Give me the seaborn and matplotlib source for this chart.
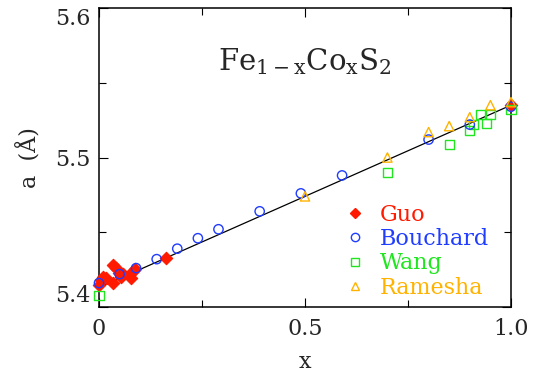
import matplotlib
matplotlib.use("Agg")
import matplotlib.pyplot as plt
from matplotlib.lines import Line2D
from matplotlib.ticker import MultipleLocator
import seaborn as sns
import pandas as pd

# ---- data ----
guo_x = [0.0, 0.004, 0.010, 0.016, 0.035, 0.035, 0.042, 0.048, 0.054, 0.058, 0.077, 0.081, 0.088, 0.162, 1.0]
guo_y = [5.4145, 5.418, 5.420, 5.4194, 5.416, 5.4278, 5.4263, 5.4227, 5.420, 5.4223, 5.4196, 5.4234, 5.4256, 5.4327, 5.535]

bouchard_x = [0.0, 0.05, 0.09, 0.14, 0.19, 0.24, 0.29, 0.39, 0.49, 0.59, 0.80, 0.90, 1.0]
bouchard_y = [5.416, 5.422, 5.426, 5.432, 5.439, 5.446, 5.452, 5.464, 5.476, 5.488, 5.512, 5.522, 5.534]

wang_x = [0.0, 0.70, 0.85, 0.90, 0.91, 0.925, 0.94, 0.95, 1.0]
wang_y = [5.408, 5.490, 5.509, 5.518, 5.522, 5.529, 5.523, 5.529, 5.532]

ramesha_x = [0.50, 0.70, 0.80, 0.85, 0.90, 0.95, 1.0]
ramesha_y = [5.474, 5.500, 5.517, 5.521, 5.527, 5.535, 5.537]

fit_x = [0.0, 1.0]
fit_y = [5.413, 5.535]

labels = ["Guo", "Bouchard", "Wang", "Ramesha"]
colors = {"Guo": "#ff1a00", "Bouchard": "#1f3cff", "Wang": "#1fe61f", "Ramesha": "#ffb300"}
markers = {"Guo": "D", "Bouchard": "o", "Wang": "s", "Ramesha": "^"}

x_ticks = [0, 0.5, 1.0]
x_ticklabels = ["0", "0.5", "1.0"]
y_ticks = [5.4, 5.5, 5.6]
y_ticklabels = ["5.4", "5.5", "5.6"]

# ---- style ----
sns.set_theme(style="ticks")
plt.rcParams["font.family"] = ["DejaVu Serif"]
plt.rcParams["mathtext.fontset"] = "dejavuserif"

fig = plt.figure(figsize=(5.36, 3.78), dpi=100)
ax = fig.add_axes([99 / 536, 1 - 307 / 378, (511 - 99) / 536, (307 - 8) / 378])

# fit line
sns.lineplot(x=fit_x, y=fit_y, ax=ax, color="black", linewidth=0.9, sort=False, estimator=None)

series = {
    "Guo": (guo_x, guo_y),
    "Bouchard": (bouchard_x, bouchard_y),
    "Wang": (wang_x, wang_y),
    "Ramesha": (ramesha_x, ramesha_y),
}
sizes = {"Guo": 40, "Bouchard": 45, "Wang": 42, "Ramesha": 45}
zorders = {"Guo": 3, "Wang": 4, "Bouchard": 5, "Ramesha": 6}
for name in ["Guo", "Wang", "Bouchard", "Ramesha"]:
    xs, ys = series[name]
    df = pd.DataFrame({"x": xs, "y": ys})
    c = colors[name]
    if name == "Guo":
        sns.scatterplot(data=df, x="x", y="y", ax=ax, marker="D", s=sizes[name],
                        color=c, edgecolor=c, linewidth=0.8, zorder=zorders[name], clip_on=False)
    else:
        sns.scatterplot(data=df, x="x", y="y", ax=ax, marker=markers[name], s=sizes[name],
                        facecolors="none", edgecolor=c, linewidth=1.0, zorder=zorders[name],
                        clip_on=False)

ax.set_xlim(0, 1.0)
ax.set_ylim(5.4, 5.6)

ax.set_xticks(x_ticks)
ax.set_xticklabels(x_ticklabels)
ax.set_yticks(y_ticks)
ax.set_yticklabels(y_ticklabels)
ax.xaxis.set_minor_locator(MultipleLocator(0.25))
ax.yaxis.set_minor_locator(MultipleLocator(0.05))
ax.tick_params(which="both", direction="in", top=True, right=True, width=0.8, color="black")
ax.tick_params(which="major", length=6.5, labelsize=16, pad=8)
ax.tick_params(which="minor", length=5)
ax.tick_params(axis="y", which="major", pad=6)
for lab in ax.get_yticklabels():
    t = lab.get_text()
    if t == "5.6":
        lab.set_va("top")
    elif t == "5.4":
        lab.set_va("bottom")
for sp in ax.spines.values():
    sp.set_visible(True)
    sp.set_linewidth(1.1)
    sp.set_color("black")

ax.set_xlabel("x", fontsize=16, labelpad=8)
ax.set_ylabel("a  (Å)", fontsize=16, labelpad=10)

ax.text(0.5, 5.564, r"Fe$_{\mathrm{1-x}}$Co$_{\mathrm{x}}$S$_{2}$", fontsize=21,
        ha="center", va="center")

handles = []
for name in labels:
    c = colors[name]
    if name == "Guo":
        h = Line2D([], [], linestyle="", marker="D", markersize=5, markerfacecolor=c, markeredgecolor=c)
    else:
        h = Line2D([], [], linestyle="", marker=markers[name], markersize=6,
                   markerfacecolor="none", markeredgecolor=c, markeredgewidth=1.0)
    handles.append(h)
leg = ax.legend(handles, labels, loc="upper left", bbox_to_anchor=(0.595, 0.345),
                frameon=False, fontsize=16, labelcolor=[colors[n] for n in labels],
                handlelength=1.0, handletextpad=0.6, labelspacing=0.1, borderpad=0.0,
                borderaxespad=0.0)

fig.savefig("out.png", dpi=100)
